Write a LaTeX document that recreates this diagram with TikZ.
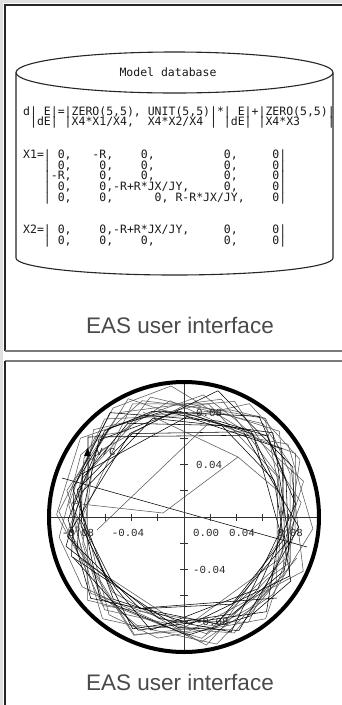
\documentclass[tikz,border=0pt]{standalone}
\usepackage{fontspec}
\setmainfont{Liberation Sans}
\newfontfamily\monof{DejaVu Sans Mono}
\newfontfamily\tickf{Liberation Mono}
\definecolor{trajgray}{HTML}{5A5A5A}
\definecolor{uitext}{HTML}{4A4A4A}
\definecolor{framegray}{HTML}{7A7A7A}
\begin{document}
\begin{tikzpicture}[x=1pt,y=-1pt,
  codeline/.style={font=\monof\fontsize{11.5}{12}\selectfont, inner sep=0pt, anchor=base west, text=black!90},
  uilabel/.style={font=\fontsize{22.5}{24}\selectfont, text=uitext, inner sep=0pt},
  ticklabel/.style={font=\tickf\fontsize{10.8}{12}\selectfont, text=black!85, inner sep=0pt},
  darkframe/.style={draw=black!85, line width=1.5pt},
  lightframe/.style={draw=framegray, line width=1.5pt},
  cyl/.style={draw=black!85, line width=1.1pt},
  axisline/.style={draw=black!80, line width=0.8pt},
  trajg/.style={draw=trajgray, line width=0.55pt},
  trajk/.style={draw=black, line width=0.55pt}]
\useasboundingbox (0,0) rectangle (342,705);
\fill[white] (0,0) rectangle (342,705);
\fill[black!12] (0,0) rectangle (342,3);
\fill[black!12] (0,0) rectangle (3,705);

% ---------- panel 1 ----------
\draw[darkframe] (345,5) -- (5,5) -- (5,351);
\draw[lightframe] (5,351) -- (345,351);

% cylinder
\draw[cyl] (16,72.5) -- (16,258) arc[start angle=180, end angle=0, x radius=158.5, y radius=17] -- (333,72.5);
\draw[cyl] (174.5,72.5) ellipse[x radius=158.5, y radius=20.5];
\node[codeline, anchor=base] (title) at (168,76) {Model~database};

\node[codeline] (l1)  at (23,115.0) {d|~E|=|ZERO(5,5),~UNIT(5,5)|*|~E|+|ZERO(5,5)|};
\node[codeline] (l2)  at (23,125.8) {~|dE|~|X4*X1/X4,~~X4*X2/X4~|~|dE|~|X4*X3~~~~|};
\node[codeline] (x11) at (23,158.2) {X1=|~0,~~~-R,~~~~0,~~~~~~~~~~0,~~~~~0|};
\node[codeline] (x12) at (23,169.0) {~~~|~0,~~~~0,~~~~0,~~~~~~~~~~0,~~~~~0|};
\node[codeline] (x13) at (23,179.8) {~~~|-R,~~~~0,~~~~0,~~~~~~~~~~0,~~~~~0|};
\node[codeline] (x14) at (23,190.6) {~~~|~0,~~~~0,-R+R*JX/JY,~~~~~0,~~~~~0|};
\node[codeline] (x15) at (23,201.4) {~~~|~0,~~~~0,~~~~~~0,~R-R*JX/JY,~~~~0|};
\node[codeline] (x21) at (23,233.8) {X2=|~0,~~~~0,-R+R*JX/JY,~~~~~0,~~~~~0|};
\node[codeline] (x22) at (23,244.6) {~~~|~0,~~~~0,~~~~0,~~~~~~~~~~0,~~~~~0|};

\node[uilabel] (ui1) at (180,325) {EAS user interface};

% ---------- panel 2 ----------
\draw[lightframe] (345,361) -- (5,361);
\draw[darkframe] (5,361) -- (5,710);

\begin{scope}[shift={(184,517)}]
  % trajectories
  \pgfmathsetseed{4242}
  \xdef\tang{20}
  \coordinate (tp) at (20:120);
  \foreach \i in {1,...,110}{
    \pgfmathsetmacro\na{\tang+38+28*rand}
    \pgfmathsetmacro\nr{117+15*rand}
    \draw[trajg] (tp) -- (\na:\nr) coordinate (tp);
    \xdef\tang{\na}
  }
  \pgfmathsetseed{777}
  \xdef\tang{160}
  \coordinate (tq) at (160:118);
  \foreach \i in {1,...,70}{
    \pgfmathsetmacro\na{\tang-47+22*rand}
    \pgfmathsetmacro\nr{114+17*rand}
    \draw[trajk] (tq) -- (\na:\nr) coordinate (tq);
    \xdef\tang{\na}
  }
\end{scope}

% explicit long chords
\coordinate (c1) at (88,437);
\coordinate (c2) at (268,435);
\coordinate (c3) at (88,480);
\coordinate (c4) at (62,478);
\coordinate (c5) at (307,547);
\coordinate (c6) at (72,503);
\coordinate (c7) at (163,513);
\coordinate (c8) at (238,457);
\coordinate (c9) at (143,412);
\coordinate (c10) at (143,608);
\coordinate (c11) at (277,598);
\coordinate (c12) at (97,530);
\coordinate (c13) at (212,420);
\coordinate (c14) at (277,490);
\draw[trajk] (c3) -- (c1) -- (c2);
\draw[trajk] (c4) -- (c5);
\draw[trajg] (c6) -- (c7) -- (c8);
\draw[trajg] (c9) -- (c8) -- (c14);
\draw[trajk] (c10) -- (c11);
\draw[trajg] (c12) -- (c13);

% axes
\draw[axisline] (48,517) -- (320,517);
\draw[axisline] (184,381) -- (184,653);
\foreach \k in {-4,-3,-2,-1,1,2,3,4}{
  \draw[axisline] (184+26.2*\k,513.5) -- (184+26.2*\k,520.5);
  \draw[axisline] (180,517+26.2*\k) -- (188,517+26.2*\k);
}
\draw[line width=4pt, black] (184,517) circle[radius=135];

% tick labels
\node[ticklabel] (xm8) at (78,533) {-0.08};
\node[ticklabel] (xm4) at (128,533) {-0.04};
\node[ticklabel, anchor=west] (x0) at (193,533) {0.00};
\node[ticklabel] (xp4) at (242,533) {0.04};
\node[ticklabel] (xp8) at (290,533) {0.08};
\node[ticklabel, anchor=west] (yp8) at (196,412.5) {0.08};
\node[ticklabel, anchor=west] (yp4) at (196,465) {0.04};
\node[ticklabel, anchor=west] (ym4) at (193,569.5) {-0.04};
\node[ticklabel, anchor=west] (ym8) at (196,622) {-0.08};

% marker
\fill[black] (84,456) -- (87.5,448) -- (91,456) -- cycle;
\node[ticklabel, anchor=west] (vc) at (96,452) {V/C};

\node[uilabel] (ui2) at (180,682) {EAS user interface};
\end{tikzpicture}
\end{document}
